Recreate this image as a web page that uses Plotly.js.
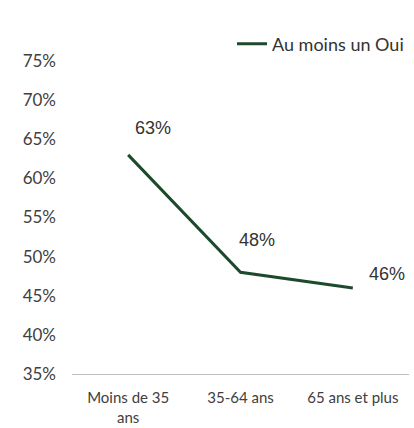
<!DOCTYPE html>
<html>
<head>
<meta charset="utf-8">
<script src="https://cdn.plot.ly/plotly-3.0.1.min.js"></script>
<style>html,body{margin:0;padding:0;background:#fff;overflow:hidden;}#chart{width:414px;height:428px;}</style>
</head>
<body>
<div id="chart"></div>
<script>
const categories = ["Moins de 35<br>ans", "35-64 ans", "65 ans et plus"];
const seriesName = "Au moins un Oui";
const values = [0.63, 0.48, 0.46];
const tickValues = [0.35, 0.40, 0.45, 0.50, 0.55, 0.60, 0.65, 0.70, 0.75];
const tickLabels = ["35%", "40%", "45%", "50%", "55%", "60%", "65%", "70%", "75%"];
const dataLabels = ["63%", "48%", "46%"];

// label placement offsets (px), styling only
const labelShiftX = [25, 16, 34];
const labelShiftY = [27, 32, 14];

const trace = {
  x: categories,
  y: values,
  type: "scatter",
  mode: "lines",
  name: seriesName,
  line: {color: "#1d4a2c", width: 3},
  hoverinfo: "skip"
};

const annotations = categories.map((c, i) => ({
  x: c, y: values[i], xref: "x", yref: "y",
  text: dataLabels[i], showarrow: false,
  xshift: labelShiftX[i], yshift: labelShiftY[i],
  font: {family: "Liberation Sans, Arial, sans-serif", size: 18, color: "#333333"}
}));

const layout = {
  width: 414, height: 428,
  margin: {l: 72, r: 5, t: 61, b: 54},
  paper_bgcolor: "#ffffff", plot_bgcolor: "#ffffff",
  showlegend: true,
  legend: {
    x: 1.0, xanchor: "right", y: 1, yanchor: "middle",
    xref: "paper", yref: "paper",
    orientation: "h",
    font: {family: "Lato, Open Sans, sans-serif", size: 18, color: "#333333"},
    bgcolor: "rgba(0,0,0,0)",
    itemwidth: 30
  },
  xaxis: {
    type: "category",
    range: [-0.5, 2.5],
    showgrid: false, automargin: false,
    showline: true, linecolor: "#bfbfbf", linewidth: 1,
    ticks: "", zeroline: false, ticklabelstandoff: 10,
    tickfont: {family: "Lato, Open Sans, sans-serif", size: 15, color: "#404040"}
  },
  yaxis: {
    range: [0.35, 0.75], automargin: false,
    tickvals: tickValues, ticktext: tickLabels,
    showgrid: false, zeroline: false, showline: false,
    ticks: "", ticklabelstandoff: 15,
    tickfont: {family: "Lato, Open Sans, sans-serif", size: 17, color: "#404040"}
  },
  annotations: annotations
};
// legend y in paper units: pixel 44 from top
layout.legend.y = 1 + (61 - 44) / (428 - 61 - 54);

Plotly.newPlot("chart", [trace], layout, {displayModeBar: false, staticPlot: true});
</script>
</body>
</html>
